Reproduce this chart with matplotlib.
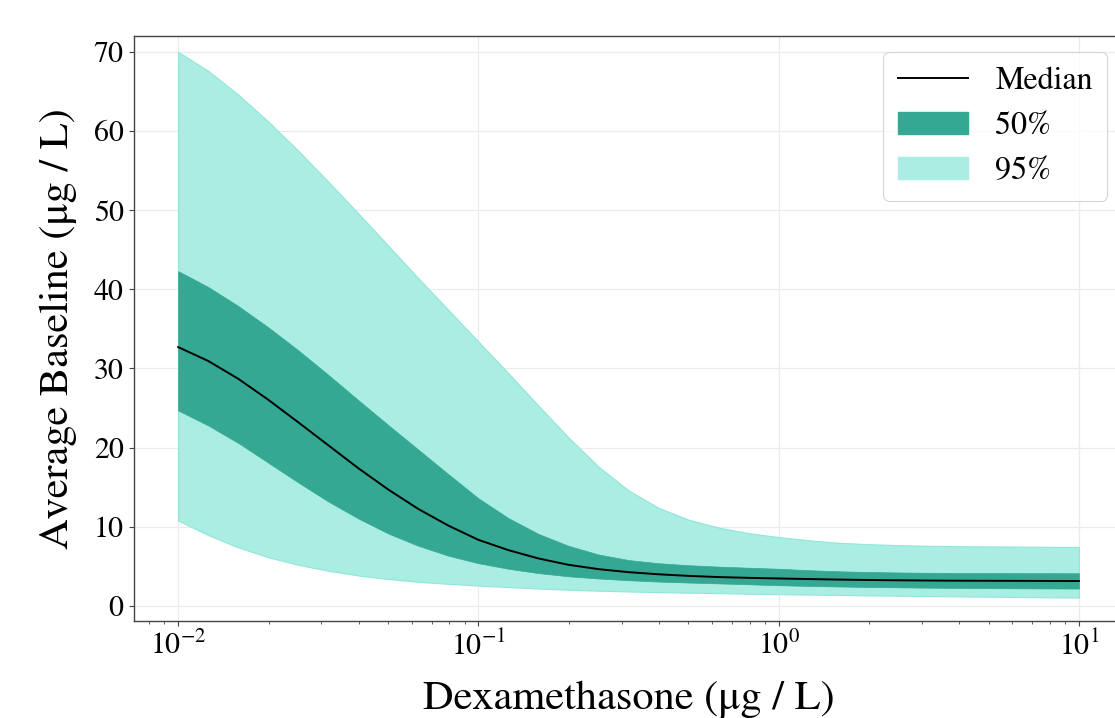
import numpy as np
import matplotlib
matplotlib.use("Agg")
import matplotlib.pyplot as plt
from matplotlib.patches import Patch
from matplotlib.lines import Line2D

# log10 of dexamethasone concentration (ug / L)
log_dose = [-2.0, -1.9, -1.8, -1.7, -1.6, -1.5, -1.4, -1.3, -1.2, -1.1,
            -1.0, -0.9, -0.8, -0.7, -0.6, -0.5, -0.4, -0.3, -0.2, -0.1,
            0.0, 0.1, 0.2, 0.3, 0.4, 0.5, 0.6, 0.7, 0.8, 0.9, 1.0]

median = [32.7, 30.95, 28.7, 26.05, 23.2, 20.3, 17.4, 14.7, 12.25, 10.15,
          8.35, 7.05, 6.0, 5.2, 4.65, 4.27, 4.0, 3.8, 3.65, 3.55,
          3.47, 3.4, 3.33, 3.28, 3.24, 3.21, 3.19, 3.18, 3.17, 3.16, 3.15]

upper_50 = [42.3, 40.3, 37.9, 35.2, 32.3, 29.2, 26.0, 22.85, 19.75, 16.65,
            13.6, 11.1, 9.1, 7.6, 6.5, 5.8, 5.4, 5.15, 4.97, 4.83,
            4.7, 4.52, 4.38, 4.29, 4.23, 4.19, 4.17, 4.16, 4.15, 4.14, 4.13]

lower_50 = [24.7, 22.8, 20.6, 18.1, 15.6, 13.2, 11.05, 9.15, 7.6, 6.35,
            5.4, 4.7, 4.15, 3.75, 3.47, 3.25, 3.08, 2.96, 2.85, 2.74,
            2.62, 2.53, 2.46, 2.4, 2.35, 2.31, 2.28, 2.25, 2.23, 2.21, 2.2]

upper_95 = [70.0, 67.6, 64.6, 61.2, 57.5, 53.6, 49.6, 45.5, 41.4, 37.4,
            33.4, 29.4, 25.3, 21.3, 17.6, 14.6, 12.4, 10.9, 9.9, 9.2,
            8.7, 8.3, 7.98, 7.8, 7.68, 7.6, 7.55, 7.52, 7.5, 7.47, 7.45]

lower_95 = [10.8, 8.95, 7.4, 6.15, 5.2, 4.45, 3.85, 3.4, 3.05, 2.8,
            2.58, 2.38, 2.2, 2.05, 1.93, 1.83, 1.75, 1.68, 1.62, 1.55,
            1.49, 1.44, 1.39, 1.34, 1.29, 1.25, 1.21, 1.17, 1.13, 1.09, 1.06]

plt.rcParams["font.family"] = "STIXGeneral"
plt.rcParams["mathtext.fontset"] = "stix"

dose = 10 ** np.array(log_dose)
light = "#aaede2"
dark = "#35a894"

fig = plt.figure(figsize=(11.15, 7.18), dpi=100)
ax = fig.add_axes([0.1202, 0.1351, 0.887, 0.8148])

ax.fill_between(dose, lower_95, upper_95, facecolor=light, edgecolor="#92e6d8", linewidth=0.8, zorder=2)
ax.fill_between(dose, lower_50, upper_50, facecolor=dark, edgecolor=dark, linewidth=0.5, zorder=3)
ax.plot(dose, median, color="black", linewidth=1.4, zorder=4)

ax.set_xscale("log")
ax.set_xlim(10 ** -2.147, 10 ** 1.147)
ax.set_ylim(-1.9, 72.0)
ax.set_yticks([0, 10, 20, 30, 40, 50, 60, 70])

ax.grid(True, which="major", color="#ebebeb", linewidth=0.9, zorder=0)
ax.set_axisbelow(True)
for side in ["left", "bottom", "top", "right"]:
    ax.spines[side].set_color("#444444")
    ax.spines[side].set_linewidth(1.0)

ax.tick_params(axis="both", which="major", labelsize=21.5, length=3.5, width=0.8, pad=4, color="#444444")
ax.tick_params(axis="x", which="minor", length=2.2, width=0.6, color="#444444")
ax.tick_params(axis="y", which="minor", left=False)

ax.set_xlabel("Dexamethasone (μg / L)", fontsize=30.5, labelpad=14)
ax.set_ylabel("Average Baseline (μg / L)", fontsize=30.5, labelpad=12)

handles = [
    Line2D([], [], color="black", linewidth=1.4, label="Median"),
    Patch(facecolor=dark, edgecolor=dark, label="50%"),
    Patch(facecolor=light, edgecolor=light, label="95%"),
]
leg = ax.legend(handles=handles, loc="upper right", fontsize=23, frameon=True, fancybox=True,
                handlelength=2.2, handletextpad=0.85, borderpad=0.45, labelspacing=0.5,
                borderaxespad=0.5)
leg.get_frame().set_edgecolor("#cccccc")
leg.get_frame().set_linewidth(0.8)

fig.savefig("out.png", dpi=100)
